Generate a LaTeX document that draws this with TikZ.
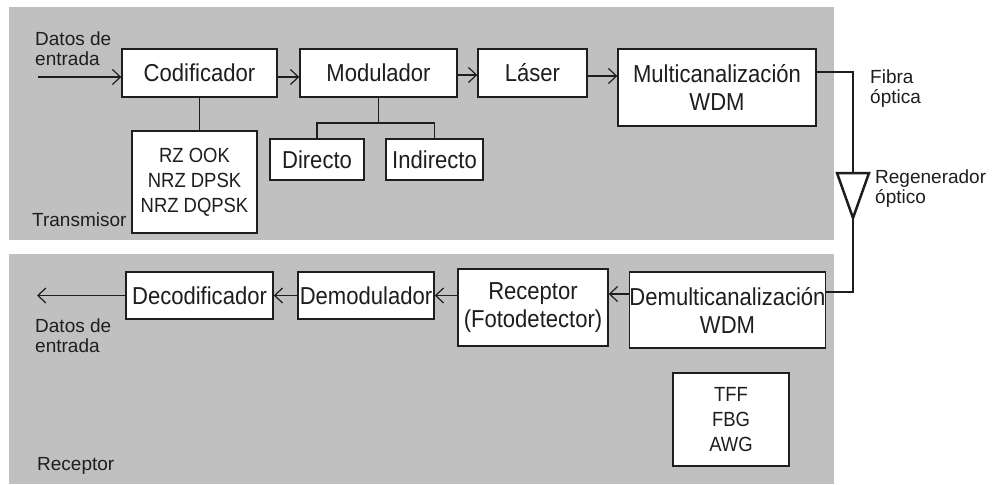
\documentclass[tikz,border=0pt]{standalone}
\usepackage{fontspec}
\setmainfont{Liberation Sans}
\newfontfamily\bxfont{Liberation Sans}[FakeStretch=0.9]
\usetikzlibrary{arrows.meta}
\definecolor{panel}{RGB}{192,192,192}
\definecolor{ink}{RGB}{30,30,30}
\begin{document}
\begin{tikzpicture}[x=1pt,y=-1pt,
  box/.style={draw=ink, line width=1.4pt, fill=white, inner sep=0pt, text=ink, align=center,
              font=\bxfont\fontsize{24.5}{28}\selectfont},
  lst/.style={box, font=\bxfont\fontsize{20.5}{25}\selectfont},
  lbl/.style={inner sep=0pt, text=ink, align=left, font=\fontsize{19}{20}\selectfont},
  arr/.style={draw=ink, line width=1.2pt, -{Straight Barb[length=8pt,width=15pt,line width=1.2pt]}},
  ln/.style={draw=ink, line width=1.4pt},
  fiber/.style={draw=ink, line width=2.5pt}]
\useasboundingbox (0,0) rectangle (992,484);
\fill[white] (0,0) rectangle (992,484);
% panels
\fill[panel] (9,7) rectangle (834,240);
\fill[panel] (9,254) rectangle (834,484);
% transmitter boxes
\node[box, minimum width=155, minimum height=48] (cod) at (199.5,73) {Codificador};
\node[box, minimum width=157, minimum height=48] (mod) at (378.5,73) {Modulador};
\node[box, minimum width=109, minimum height=48] (las) at (532.5,73) {Láser};
\node[box, minimum width=198, minimum height=77] (mux) at (717,87.5) {Multicanalización\\WDM};
\node[lst, minimum width=125, minimum height=102] (rz) at (194.5,182) {RZ OOK\\NRZ DPSK\\NRZ DQPSK};
\node[box, minimum width=94, minimum height=41] (dir) at (317,159.5) {Directo};
\node[box, minimum width=97, minimum height=41] (ind) at (434.5,159.5) {Indirecto};
% receiver boxes
\node[box, minimum width=147, minimum height=47] (dec) at (199.5,295.5) {Decodificador};
\node[box, minimum width=136, minimum height=47] (dem) at (366,295.5) {Demodulador};
\node[box, minimum width=150, minimum height=77] (rec) at (533,307.5) {Receptor\\(Fotodetector)};
\node[box, minimum width=193, minimum height=76] (dmx) at (727.5,310) {Demulticanalización\\WDM};
\node[lst, minimum width=116, minimum height=93] (tff) at (731,419.5) {TFF\\FBG\\AWG};
% labels (base anchor = baseline of the last line)
\node[lbl, anchor=base west] (din) at (35,66) {Datos de\\entrada};
\node[lbl, anchor=base west] (tx) at (32,226) {Transmisor};
\node[lbl, anchor=base west] (dout) at (35,352) {Datos de\\entrada};
\node[lbl, anchor=base west] (rxl) at (37,470) {Receptor};
\node[lbl, anchor=base west] (fib) at (870,103) {Fibra\\óptica};
\node[lbl, anchor=base west] (reg) at (875,203) {Regenerador\\óptico};
% free ends
\coordinate (in) at (38,77);
\coordinate (out) at (37,295.5);
% transmitter arrows
\draw[arr] (in) -- ([yshift=-4pt]cod.west);
\draw[arr] ([yshift=-4pt]cod.east) -- ([yshift=-4pt]mod.west);
\draw[arr] ([yshift=-2pt]mod.east) -- ([yshift=-2pt]las.west);
\draw[arr] ([yshift=-3pt]las.east) -- ([yshift=11.5pt]mux.west);
% branches
\draw[ln] (cod.south) -- (cod.south |- rz.north);
\coordinate (br) at (378.5,123);
\draw[ln] (mod.south) -- (br);
\draw[ln] (dir.north) |- (br) -| (ind.north);
% fibre and regenerator
\coordinate (f1) at (853,72);
\coordinate (tc) at (853,173);
\coordinate (t1) at (837,173);
\coordinate (t2) at (869,173);
\coordinate (ta) at (853,218);
\coordinate (f2) at (853,292);
\draw[fiber] ([yshift=15.5pt]mux.east) -- (f1) -- (tc);
\draw[fiber, line join=miter] (t1) -- (t2) -- (ta) -- cycle;
\draw[fiber] (ta) -- (f2) -- ([yshift=18pt]dmx.east);
% receiver arrows
\draw[arr] ([yshift=16pt]dmx.west) -- ([yshift=13.5pt]rec.east);
\draw[arr] ([yshift=12pt]rec.west) -- (dem.east);
\draw[arr] (dem.west) -- (dec.east);
\draw[arr] (dec.west) -- (out);
\end{tikzpicture}
\end{document}
